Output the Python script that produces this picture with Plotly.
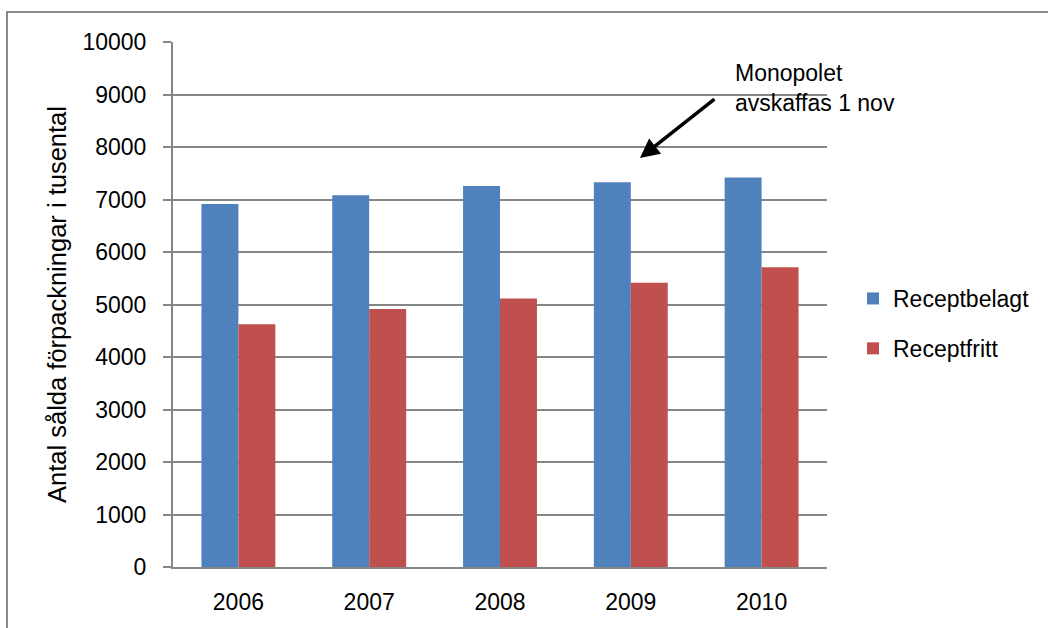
import plotly.graph_objects as go

years = ["2006", "2007", "2008", "2009", "2010"]
receptbelagt = [6916, 7082, 7259, 7330, 7419]
receptfritt = [4625, 4916, 5114, 5412, 5710]
y_ticks = [0, 1000, 2000, 3000, 4000, 5000, 6000, 7000, 8000, 9000, 10000]
y_tick_text = [str(v) for v in y_ticks]

FONT = "Liberation Sans, Arial, sans-serif"
GRID = "#868686"
FS = 23

fig = go.Figure()
fig.add_trace(go.Bar(x=years, y=receptbelagt, name="Receptbelagt",
                     marker=dict(color="#4F81BD", line=dict(width=0)), legendgroup="a"))
fig.add_trace(go.Bar(x=years, y=receptfritt, name="Receptfritt",
                     marker=dict(color="#C0504D", line=dict(width=0)), legendgroup="b"))

L, R, T, B = 173, 1048 - 827, 42, 628 - 567
W, H = 1048, 628
pw, ph = W - L - R, H - T - B

def px(x):
    return (x - L) / pw

def py(y):
    return (H - B - y) / ph

fig.update_layout(
    width=W, height=H,
    margin=dict(l=L, r=R, t=T, b=B, pad=0),
    paper_bgcolor="white", plot_bgcolor="white",
    font=dict(family=FONT, size=FS, color="#000000"),
    barmode="group", bargap=0.435, bargroupgap=0,
    showlegend=True,
    legend=dict(x=px(853), y=py(277), xanchor="left", yanchor="top",
                font=dict(size=FS), traceorder="grouped", tracegroupgap=17,
                itemwidth=30, bgcolor="rgba(0,0,0,0)"),
    xaxis=dict(type="category", showgrid=False, showline=True, linecolor=GRID,
               linewidth=2, ticks="", tickfont=dict(size=FS), fixedrange=True,
               ticklabelstandoff=13),
    yaxis=dict(range=[0, 10000], tickvals=y_ticks, ticktext=y_tick_text,
               showgrid=True, gridcolor=GRID, fixedrange=True,
               gridwidth=2, showline=True, linecolor=GRID, linewidth=2,
               ticks="outside", ticklen=8, tickcolor=GRID, tickwidth=2,
               tickfont=dict(size=FS), zeroline=False, ticklabelstandoff=12,
               title=dict(text="Antal sålda förpackningar i tusental",
                          font=dict(size=25.5), standoff=9)),
)

# outer frame
fig.add_shape(type="rect", xref="paper", yref="paper",
              x0=px(7), x1=px(1060), y0=py(660), y1=py(12),
              line=dict(color="#8a8a8a", width=2), fillcolor="rgba(0,0,0,0)", layer="below")

# annotation text
fig.add_annotation(x=px(733), y=py(58), xref="paper", yref="paper",
                   text="Monopolet<br>avskaffas 1 nov", showarrow=False,
                   xanchor="left", yanchor="top", align="left",
                   font=dict(size=FS, color="#000000"))
# arrow
fig.add_annotation(x=3.07, y=7790, xref="x", yref="y", text="",
                   showarrow=True, arrowhead=2, arrowsize=1.1, arrowwidth=3.5,
                   arrowcolor="#000000", ax=76, ay=-60, axref="pixel", ayref="pixel")

fig.write_html("out.html", config={"displayModeBar": False},
               post_script="document.body.style.margin='0';document.body.style.padding='0';")
